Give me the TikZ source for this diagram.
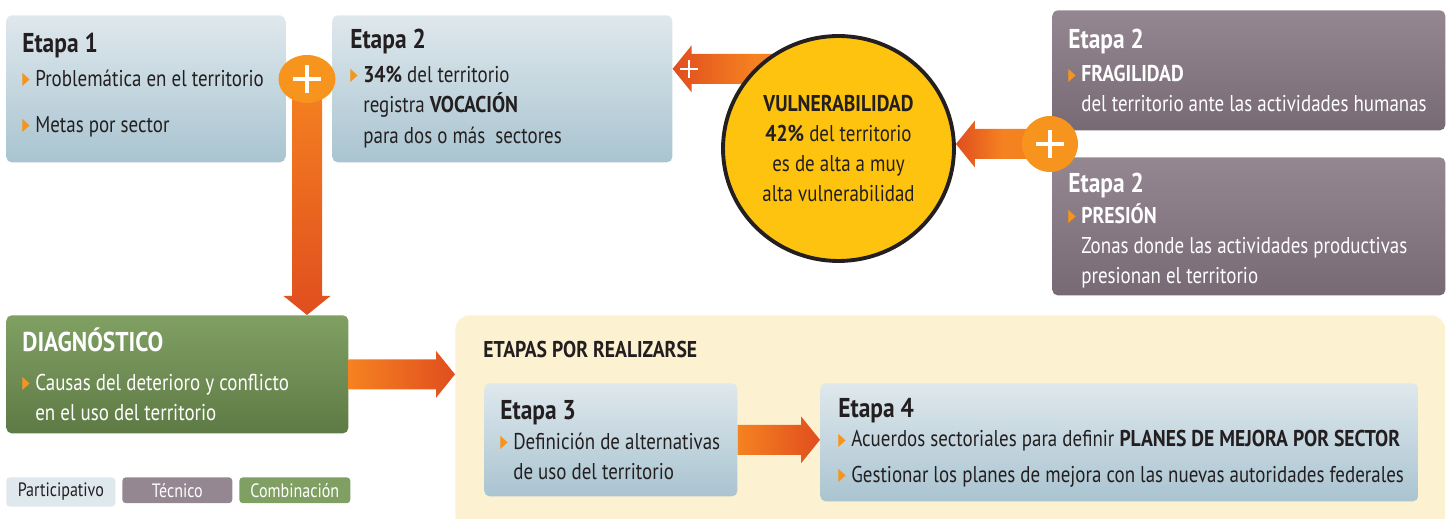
\documentclass[tikz,border=0pt]{standalone}
\usepackage{fontspec}
\setmainfont{PT Sans}[FakeStretch=0.83, BoldFeatures={FakeStretch=0.86}]
\newfontfamily\dejavu{DejaVu Sans}
\usepackage{graphicx}
\usepackage{xcolor}
\usetikzlibrary{calc,shapes.geometric}

\definecolor{arrorange}{HTML}{F58220}
\definecolor{arrred}{HTML}{E04E1F}
\definecolor{plusc}{HTML}{F7941D}
\definecolor{bulc}{HTML}{F7941D}
\definecolor{boxtop}{HTML}{DFE8ED}
\definecolor{boxbot}{HTML}{A9C4D0}
\definecolor{mauvetop}{HTML}{958791}
\definecolor{mauvebot}{HTML}{776A74}
\definecolor{greentop}{HTML}{80A063}
\definecolor{greenbot}{HTML}{5E7A45}
\definecolor{vulc}{HTML}{FEC30F}
\definecolor{pale}{HTML}{FCF1D1}
\definecolor{ink}{HTML}{231F20}

\pgfdeclarelayer{front}
\pgfsetlayers{main,front}

\newcommand{\body}{\fontsize{13}{17}\selectfont}
\newcommand{\ttl}{\fontsize{15.5}{17}\selectfont\bfseries}
\newcommand{\bul}{\makebox[0.26cm][l]{\raisebox{0.15ex}{\textcolor{bulc}{\scalebox{0.55}[1]{\fontsize{10}{10}\dejavu ▶}}}}}
\newcommand{\ind}{\hspace*{0.26cm}}

% thick shaded arrow from #2 to the tip #3
\newcommand{\fatarrow}[3][]{%
  \coordinate (ah) at ($(#3)!0.38cm!(#2)$);
  \shade[#1] ($(#2)!0.3cm!90:(#3)$) -- ($(ah)!0.3cm!90:(#3)$) -- ($(ah)!0.47cm!90:(#3)$) -- (#3)
    -- ($(ah)!0.47cm!-90:(#3)$) -- ($(ah)!0.3cm!-90:(#3)$) -- ($(#2)!0.3cm!-90:(#3)$) -- cycle;}

\tikzset{
  stagebox/.style={rounded corners=3pt, anchor=north west, inner sep=0,
    top color=boxtop, middle color=boxtop, bottom color=boxbot},
  techbox/.style={stagebox, top color=mauvetop, middle color=mauvetop, bottom color=mauvebot},
  mixbox/.style={stagebox, top color=greentop, middle color=greentop, bottom color=greenbot},
  txt/.style={anchor=west, align=left, inner sep=0, font=\body, text=ink},
  legend/.style={rounded corners=2pt, anchor=north west, minimum height=0.5cm,
    font=\fontsize{11}{12}\selectfont},
  plusmark/.style 2 args={path picture={
    \draw[white, line width=#2]
      ([xshift=-#1]path picture bounding box.center) -- ([xshift=#1]path picture bounding box.center)
      ([yshift=-#1]path picture bounding box.center) -- ([yshift=#1]path picture bounding box.center);}},
}

\begin{document}
\begin{tikzpicture}[x=0.02cm, y=-0.02cm]
	\useasboundingbox (0,0) rectangle (1451,519);
	% boxes
	\node[anchor=north west, fill=pale, rounded corners=8pt, minimum width=19.8cm, minimum height=4.3cm] (etapas) at (455,315) {};
	\node[stagebox, minimum width=5.58cm, minimum height=2.94cm] (e1) at (6,15) {};
	\node[stagebox, minimum width=6.8cm, minimum height=2.94cm] (e2) at (332,15) {};
	\node[techbox, minimum width=7.86cm, minimum height=2.4cm] (frag) at (1052,10) {};
	\node[techbox, minimum width=7.86cm, minimum height=2.76cm] (pres) at (1052,157) {};
	\node[mixbox, minimum width=6.84cm, minimum height=2.36cm] (diag) at (6,315) {};
	\node[stagebox, minimum width=5.06cm, minimum height=2.26cm] (e3) at (484,383) {};
	\node[stagebox, minimum width=11.96cm, minimum height=2.36cm] (e4) at (820,383) {};
	%
	\node[txt] (e1t) at ([xshift=0.32cm, yshift=0.08cm]e1.west) {{\ttl Etapa 1}\\[2.3pt]\bul Problemática en el territorio\\[9pt]\bul Metas por sector};
	\node[txt] (e2t) at ([xshift=0.36cm]e2.west) {{\ttl Etapa 2}\\[2.3pt]\bul\textbf{34\%} del territorio\\\ind registra \textbf{VOCACIÓN}\\[1pt]\ind para dos o más\ \ sectores};
	\node[txt, text=white] (fragt) at ([xshift=0.32cm]frag.west) {{\ttl Etapa 2}\\[2.3pt]\bul\textbf{FRAGILIDAD}\\\ind del territorio ante las actividades humanas};
	\node[txt, text=white] (prest) at ([xshift=0.32cm, yshift=-0.08cm]pres.west) {{\ttl Etapa 2}\\[0.5pt]\bul\textbf{PRESIÓN}\\\ind Zonas donde las actividades productivas\\\ind presionan el territorio};
	\node[txt, text=white] (diagt) at ([xshift=0.32cm]diag.west) {{\ttl DIAGNÓSTICO}\\[5pt]\bul Causas del deterioro y conflicto\\\ind en el uso del territorio};
	\node[txt, font=\body\bfseries] (etapast) at (483,350) {ETAPAS POR REALIZARSE};
	\node[txt] (e3t) at ([xshift=0.32cm]e3.west) {{\ttl Etapa 3}\\\bul Definición de alternativas\\\ind de uso del territorio};
	\node[txt] (e4t) at ([xshift=0.36cm]e4.west) {{\ttl Etapa 4}\\\bul Acuerdos sectoriales para definir \textbf{PLANES DE MEJORA POR SECTOR}\\[3pt]\bul Gestionar los planes de mejora con las nuevas autoridades federales};
	% legend
	\node[legend, fill=boxtop, text=ink, minimum width=2.18cm] (lg1) at (6,477) {Participativo};
	\node[legend, fill=mauvetop, text=white, minimum width=2.2cm] (lg2) at (122,477) {Técnico};
	\node[legend, fill=greentop, text=white, minimum width=2.22cm] (lg3) at (239,477) {Combinación};
	%
	\coordinate (vtip) at ([yshift=0.4cm]e2.east);
	\begin{pgfonlayer}{front}
		\node[ellipse, fill=plusc, minimum width=1.14cm, minimum height=0.96cm, plusmark={0.28cm}{1.9pt}] (p1) at (307,79) {};
		\node[circle, fill=plusc, minimum size=1.12cm, plusmark={0.28cm}{1.9pt}] (p2) at (1050,144) {};
		\node[ellipse, fill=vulc, draw=ink, line width=2.2pt, minimum width=4.62cm, minimum height=4.5cm,
			align=center, font=\body, text=ink, inner sep=0] (vul) at (838.5,148.5)
			{\textbf{VULNERABILIDAD}\\\textbf{42\%} del territorio\\es de alta a muy\\alta vulnerabilidad};
		\node[minimum size=0.4cm, inner sep=0, plusmark={0.18cm}{1.1pt}] (vplus) at ([xshift=0.33cm]vtip) {};
	\end{pgfonlayer}
	% arrows
	\fatarrow[top color=arrorange, bottom color=arrred]{p1.center}{p1.center |- diag.north}
	\fatarrow[left color=arrorange, right color=arrred]{diag.east}{diag.east -| etapas.west}
	\fatarrow[left color=arrred, right color=arrorange, middle color=arrorange]{vul.center |- vtip}{vtip}
	\fatarrow[left color=arrred, right color=arrorange, middle color=arrorange]{p2.center}{p2.center -| vul.east}
	\fatarrow[left color=arrorange, right color=arrred]{e3.east}{e3.east -| e4.west}
\end{tikzpicture}
\end{document}
